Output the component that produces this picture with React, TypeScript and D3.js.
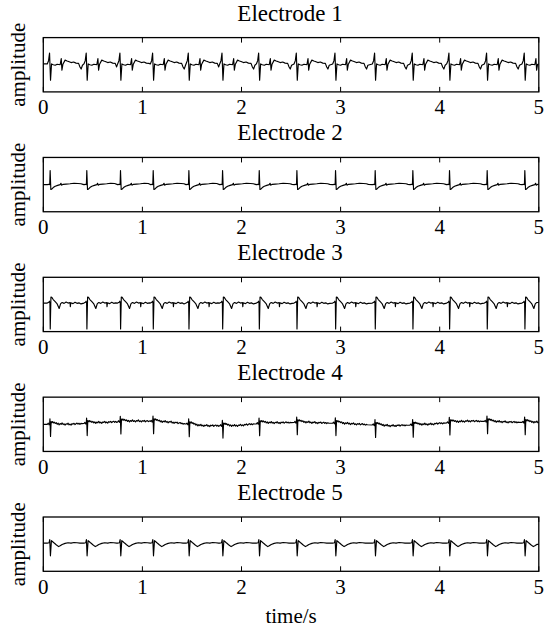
import React from 'react';
import * as d3 from 'd3';

// ---- data ----
const TIME_DOMAIN: [number, number] = [0, 5];
const X_TICKS = [0, 1, 2, 3, 4, 5];
const TITLES = ['Electrode 1', 'Electrode 2', 'Electrode 3', 'Electrode 4', 'Electrode 5'];
const Y_LABEL = 'amplitude';
const X_LABEL = 'time/s';

// R-peak times (s), shared by all electrodes
const BEAT_TIMES = [0.07, 0.44, 0.78, 1.11, 1.47, 1.81, 2.18, 2.56, 2.95, 3.35, 3.73, 4.1, 4.48, 4.86];

// beat waveforms: [offset from R peak (s), amplitude]
const BEAT_E1: [number, number][] = [
  [-0.03, 0.03], [-0.017, 0.15], [-0.007, 0.43], [0.003, -0.57], [0.013, 0.03], [0.03, 0.0],
  [0.05, -0.02], [0.07, 0.02], [0.1, 0.0], [0.111, 0.23], [0.118, -0.2], [0.128, 0.02],
  [0.15, 0.17], [0.17, 0.14], [0.185, 0.12], [0.21, 0.08], [0.236, 0.1], [0.26, 0.06],
  [0.286, 0.05], [0.3, -0.08], [0.312, -0.16], [0.325, -0.02],
];
const BEAT_E2: [number, number][] = [
  [-0.03, 0.0], [-0.012, 0.01], [-0.005, 0.0], [-0.001, 0.52], [0.006, -0.18], [0.015, -0.17],
  [0.03, -0.11], [0.05, -0.06], [0.075, -0.03], [0.1, 0.0], [0.108, 0.05], [0.114, -0.02],
  [0.13, 0.01], [0.16, 0.02], [0.2, 0.03], [0.24, 0.05], [0.28, 0.04], [0.31, 0.03], [0.33, 0.01],
];
const BEAT_E3: [number, number][] = [
  [-0.03, 0.05], [-0.015, 0.08], [-0.008, 0.12], [-0.003, 0.05], [0.0, -0.9], [0.007, 0.27],
  [0.016, 0.26], [0.03, 0.18], [0.05, 0.1], [0.07, 0.02], [0.09, -0.15], [0.105, 0.03],
  [0.12, 0.07], [0.14, 0.04], [0.16, 0.09], [0.18, 0.05], [0.2, 0.07],
  [0.203, -0.08], [0.207, 0.06], [0.23, 0.03], [0.25, 0.08], [0.27, 0.04], [0.29, 0.06],
  [0.31, 0.02], [0.33, 0.04],
];
const BEAT_E4: [number, number][] = [
  [-0.03, 0.0], [-0.02, 0.04], [-0.012, -0.02], [-0.006, 0.03], [-0.003, 0.2], [0.003, -0.45],
  [0.009, 0.1], [0.016, 0.06], [0.024, 0.1], [0.032, 0.05], [0.04, 0.08], [0.05, 0.03],
  [0.06, 0.06], [0.07, 0.0], [0.08, 0.04], [0.09, -0.02], [0.1, 0.03], [0.11, 0.0],
  [0.12, 0.05], [0.13, -0.01], [0.14, 0.02], [0.15, -0.03], [0.16, 0.02], [0.17, 0.0],
  [0.18, 0.04], [0.19, -0.02], [0.2, 0.01], [0.21, -0.03], [0.22, 0.02], [0.23, 0.0],
  [0.24, 0.03], [0.25, -0.02], [0.26, 0.01], [0.27, 0.03], [0.28, -0.01], [0.29, 0.02],
  [0.3, -0.02], [0.31, 0.01], [0.32, 0.0],
];
const BEAT_E5: [number, number][] = [
  [-0.03, 0.04], [-0.012, 0.05], [-0.005, 0.17], [0.002, -0.43], [0.012, 0.13], [0.025, 0.09],
  [0.04, 0.04], [0.06, -0.02], [0.085, -0.09], [0.1, -0.06], [0.12, -0.01], [0.15, 0.03],
  [0.18, 0.05], [0.21, 0.04], [0.24, 0.06], [0.27, 0.05], [0.3, 0.04], [0.33, 0.04],
];

// slow baseline drift: [time (s), offset]
const DRIFT_FLAT: [number, number][] = [[0, 0], [5, 0]];
const DRIFT_E4: [number, number][] = [
  [0, 0.0], [0.27, 0.0], [0.62, 0.07], [0.96, 0.12], [1.28, 0.08], [1.58, -0.05], [1.93, -0.06],
  [2.24, 0.05], [2.64, 0.07], [3.09, 0.02], [3.5, -0.06], [3.9, 0.0], [4.3, 0.12], [4.81, 0.07], [5, 0.07],
];

const BEATS = [BEAT_E1, BEAT_E2, BEAT_E3, BEAT_E4, BEAT_E5];
const DRIFTS = [DRIFT_FLAT, DRIFT_FLAT, DRIFT_FLAT, DRIFT_E4, DRIFT_FLAT];

function buildSeries(beat: [number, number][], drift: [number, number][]): [number, number][] {
  const lead = beat[0][0];
  const pts: [number, number][] = [[TIME_DOMAIN[0], beat[0][1]]];
  BEAT_TIMES.forEach((bt, i) => {
    const next = i < BEAT_TIMES.length - 1 ? BEAT_TIMES[i + 1] + lead : Infinity;
    beat.forEach(([dt, v]) => {
      const t = bt + dt;
      if (t > TIME_DOMAIN[0] && t < TIME_DOMAIN[1] && t < next) pts.push([t, v]);
    });
  });
  pts.push([TIME_DOMAIN[1], pts[pts.length - 1][1]]);
  const d = d3.scaleLinear().domain(drift.map((p) => p[0])).range(drift.map((p) => p[1]));
  return pts.map(([t, v]) => [t, v + d(t)] as [number, number]);
}

const FONT = '"Liberation Serif", "Times New Roman", serif';

export default function App() {
  const W = 559, H = 633;
  const left = 43.3, right = 538.8;
  const top0 = 37.6, step = 119.85, ph = 54.3;
  const x = d3.scaleLinear().domain(TIME_DOMAIN).range([left, right]);

  return (
    <svg width={W} height={H} style={{ position: 'absolute', left: 0, top: 0, background: '#fff' }}
      xmlns="http://www.w3.org/2000/svg">
      <rect x={0} y={0} width={W} height={H} fill="#fff" />
      {TITLES.map((title, i) => {
        const top = top0 + i * step;
        const bottom = top + ph;
        const y = d3.scaleLinear().domain([-1, 1]).range([bottom, top]);
        const series = buildSeries(BEATS[i], DRIFTS[i]);
        const line = d3.line<[number, number]>().x((d) => x(d[0])).y((d) => y(d[1]));
        return (
          <g key={title}>
            <text x={(left + right) / 2 - 1} y={top - 17} textAnchor="middle" fontFamily={FONT} fontSize={23}>
              {title}
            </text>
            <text transform={`translate(25,${(top + bottom) / 2}) rotate(-90)`} textAnchor="middle"
              fontFamily={FONT} fontSize={21}>
              {Y_LABEL}
            </text>
            <path d={line(series) || ''} fill="none" stroke="#000" strokeWidth={1.15} strokeLinejoin="round" />
            <rect x={left} y={top} width={right - left} height={ph} fill="none" stroke="#000" strokeWidth={1.3} />
            {X_TICKS.map((t) => (
              <g key={t}>
                <line x1={x(t)} x2={x(t)} y1={top} y2={top + 5} stroke="#000" strokeWidth={1} />
                <line x1={x(t)} x2={x(t)} y1={bottom} y2={bottom - 5} stroke="#000" strokeWidth={1} />
                <text x={x(t)} y={bottom + 22.3} textAnchor="middle" fontFamily={FONT} fontSize={21}>
                  {t}
                </text>
              </g>
            ))}
          </g>
        );
      })}
      <text x={(left + right) / 2} y={623} textAnchor="middle" fontFamily={FONT} fontSize={21}>
        {X_LABEL}
      </text>
    </svg>
  );
}
